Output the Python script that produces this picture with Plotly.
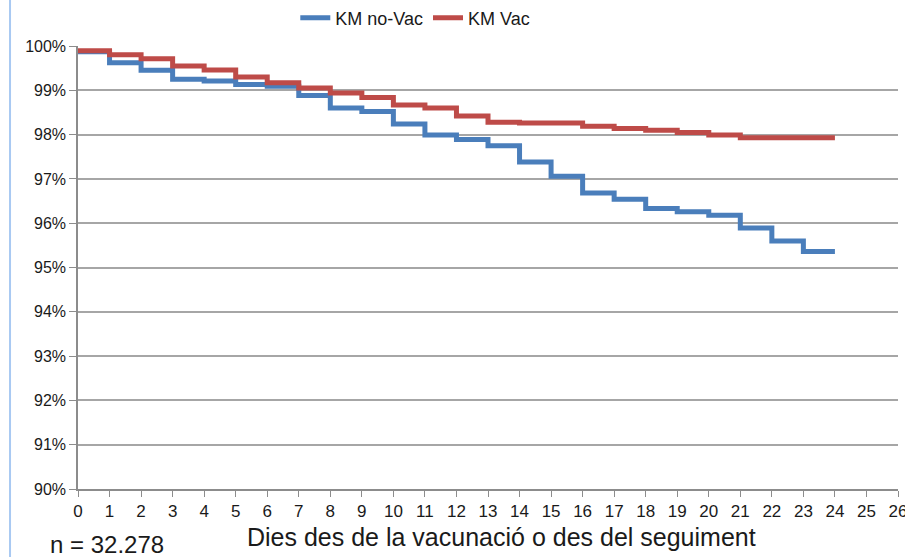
import plotly.graph_objects as go

days = list(range(0, 25))
km_novac = [99.87, 99.62, 99.45, 99.25, 99.21, 99.13, 99.09, 98.88, 98.60, 98.52,
            98.24, 97.99, 97.89, 97.75, 97.38, 97.06, 96.68, 96.54, 96.33, 96.26,
            96.18, 95.89, 95.60, 95.36, 95.36]
km_vac = [99.89, 99.80, 99.71, 99.55, 99.46, 99.30, 99.17, 99.05, 98.94, 98.84,
          98.67, 98.60, 98.42, 98.28, 98.26, 98.26, 98.19, 98.14, 98.10, 98.05,
          97.99, 97.93, 97.93, 97.93, 97.93]
x_ticks = list(range(0, 27))
y_ticks = list(range(90, 101))
series_names = ["KM no-Vac", "KM Vac"]
x_title = "Dies des de la vacunació o des del seguiment"
n_label = "n = 32.278"

fig = go.Figure()
fig.add_trace(go.Scatter(x=days, y=km_novac, mode="lines", line_shape="hv",
                         name=series_names[0], line=dict(color="#4A7EBB", width=5)))
fig.add_trace(go.Scatter(x=days, y=km_vac, mode="lines", line_shape="hv",
                         name=series_names[1], line=dict(color="#BE4B48", width=5)))

fig.update_layout(
    width=905, height=557,
    margin=dict(l=78, r=7, t=46, b=68, autoexpand=False),
    paper_bgcolor="white", plot_bgcolor="white",
    font=dict(family="Liberation Sans, Arial, sans-serif", color="#1a1a1a"),
    showlegend=True,
    legend=dict(orientation="h", x=0.265, xanchor="left", y=1.063, yanchor="middle",
                font=dict(size=18), bgcolor="rgba(0,0,0,0)", itemwidth=30,
                tracegroupgap=0),
    xaxis=dict(range=[0, 26], tickmode="array", tickvals=x_ticks,
               ticktext=[str(v) for v in x_ticks],
               showgrid=False, zeroline=False, showline=True,
               linecolor="#8C8C8C", linewidth=1.5,
               ticks="outside", ticklen=6, tickcolor="#8C8C8C",
               ticklabeloverflow="allow", automargin=False,
               tickfont=dict(size=17),
               fixedrange=True),
    yaxis=dict(range=[90, 100], tickmode="array", tickvals=y_ticks,
               ticktext=[f"{v}%" for v in y_ticks],
               showgrid=True, gridcolor="#A6A6A6", gridwidth=1.5,
               zeroline=False, showline=True, linecolor="#8C8C8C", linewidth=1.5,
               ticks="outside", ticklen=7, tickcolor="#8C8C8C",
               ticklabeloverflow="allow", automargin=False,
               tickfont=dict(size=16), fixedrange=True),
)

fig.add_annotation(text=x_title, xref="paper", yref="paper", x=0.516, y=-0.108,
                   showarrow=False, font=dict(size=25), xanchor="center", yanchor="middle")
fig.add_annotation(text=n_label, xref="paper", yref="paper", x=-0.036, y=-0.126,
                   showarrow=False, font=dict(size=24), xanchor="left", yanchor="middle")
fig.add_shape(type="line", xref="paper", yref="paper", x0=-0.0829, x1=-0.0829,
              y0=-0.16, y1=1.11, line=dict(color="#A9C9F2", width=2))

fig.write_html("out.html", config={"displayModeBar": False},
               post_script="document.body.style.margin='0';document.body.style.overflow='hidden';")
